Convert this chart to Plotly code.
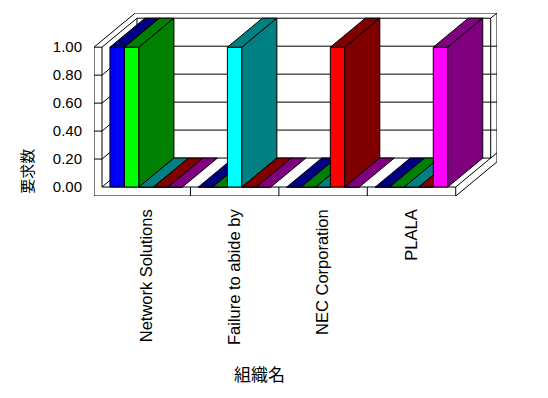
import plotly.graph_objects as go

# ---------------- data ----------------
categories = ["Network Solutions", "Failure to abide by", "NEC Corporation", "PLALA"]
series_1 = [1, 0, 0, 0]
series_2 = [1, 0, 0, 0]
series_3 = [0, 1, 0, 0]
series_4 = [0, 0, 1, 0]
series_5 = [0, 0, 0, 1]
series_names = ["系列1", "系列2", "系列3", "系列4", "系列5"]
y_tick_values = [0.0, 0.2, 0.4, 0.6, 0.8, 1.0]
y_tick_labels = ["0.00", "0.20", "0.40", "0.60", "0.80", "1.00"]
y_title = "要求数"
x_title = "組織名"

series_values = [series_1, series_2, series_3, series_4, series_5]

# ---------------- styles ----------------
front_colors = ["#0000FF", "#00FF00", "#00FFFF", "#FF0000", "#FF00FF"]
shade_colors = ["#000080", "#008000", "#008080", "#800000", "#800080"]

# ---------------- geometry (3D oblique projection) ----------------
W, H = 548, 398
OFF = 8                # default page body margin
PX_CAT = 88.5          # pixels per category
PX_VAL = 140.0         # pixels per value unit
n = len(categories)
xL, xR = -0.5, n - 0.5
DX = 35 / PX_CAT       # depth offset (x units)
DY = 29 / PX_VAL       # depth offset (value units)
WALL = 8 / PX_CAT      # left wall thickness
FLOOR = 9 / PX_VAL     # floor thickness
K = 1.18               # back wall thickness factor
YMAX = max(y_tick_values)
GROUP = 0.82
BW = GROUP / len(series_values)

x_range = [xL - WALL, xR + K * DX]
y_range = [-FLOOR, YMAX + K * DY]
plot_w = (x_range[1] - x_range[0]) * PX_CAT
plot_h = (y_range[1] - y_range[0]) * PX_VAL
FW, FH = W - OFF, H - OFF
ML, MT = 94 - OFF, 13 - OFF
MR = FW - ML - plot_w
MB = FH - MT - plot_h

fig = go.Figure()

def poly_trace(polys, fill, z, width=1):
    xs, ys = [], []
    for p in polys:
        for (a, b) in p:
            xs.append(a); ys.append(b)
        xs.append(p[0][0]); ys.append(p[0][1])
        xs.append(None); ys.append(None)
    return go.Scatter(x=xs, y=ys, mode="lines", fill="toself", fillcolor=fill,
                      line=dict(color="black", width=width), hoverinfo="skip",
                      showlegend=False, zorder=z)

def line_trace(segs, z):
    xs, ys = [], []
    for seg in segs:
        for (a, b) in seg:
            xs.append(a); ys.append(b)
        xs.append(None); ys.append(None)
    return go.Scatter(x=xs, y=ys, mode="lines", line=dict(color="black", width=1),
                      hoverinfo="skip", showlegend=False, zorder=z)

# walls + floor silhouette
sil = [(xL - WALL, -FLOOR), (xL - WALL, YMAX), (xL - WALL + K * DX, YMAX + K * DY),
       (xR + K * DX, YMAX + K * DY), (xR + K * DX, -FLOOR + K * DY), (xR, -FLOOR)]
fig.add_trace(poly_trace([sil], "white", 0))

segs = []
segs.append([(xL - WALL, YMAX), (xL, YMAX), (xL, 0), (xR, 0), (xR, -FLOOR)])
segs.append([(xL, YMAX), (xL + DX, YMAX + DY), (xR + DX, YMAX + DY), (xR + DX, DY)])
segs.append([(xR + DX, YMAX + DY), (xR + K * DX, YMAX + K * DY)])
segs.append([(xR, 0), (xR + K * DX, K * DY)])
segs.append([(xL, 0), (xL + DX, DY), (xR + DX, DY)])
segs.append([(xL + DX, DY), (xL + DX, YMAX + DY)])
for v in y_tick_values[1:-1]:
    segs.append([(xL + DX, v + DY), (xR + K * DX, v + DY)])
    segs.append([(xL, v), (xL + DX, v + DY)])
    segs.append([(xL - WALL, v), (xL, v)])
for i in range(n - 1):
    segs.append([(i + 0.5, -FLOOR), (i + 0.5, 0)])
fig.add_trace(line_trace(segs, 1))

# bars
for s, vals in enumerate(series_values):
    off = -GROUP / 2 + s * BW
    z = 10 + s
    fig.add_trace(go.Bar(x=list(range(n)), y=vals, offset=off, width=BW,
                         marker=dict(color=front_colors[s], line=dict(color="black", width=1)),
                         name=series_names[s], showlegend=False, zorder=z))
    tops, sides = [], []
    for i, v in enumerate(vals):
        x0 = i + off
        x1 = x0 + BW
        tops.append([(x0, v), (x1, v), (x1 + DX, v + DY), (x0 + DX, v + DY)])
        if v > 0:
            sides.append([(x1, 0), (x1, v), (x1 + DX, v + DY), (x1 + DX, DY)])
    fig.add_trace(poly_trace(tops, shade_colors[s], z))
    if sides:
        fig.add_trace(poly_trace(sides, shade_colors[s], z))

def px_to_paper(px, py):
    return (px - OFF - ML) / plot_w, 1 - (py - OFF - MT) / plot_h

ytx, yty = px_to_paper(27, 172)
xtx, xty = px_to_paper(260, 374)

fig.update_layout(
    width=FW, height=FH, barmode="overlay",
    margin=dict(l=ML, r=MR, t=MT, b=MB, pad=0),
    paper_bgcolor="white", plot_bgcolor="white",
    showlegend=False,
    font=dict(family="Liberation Sans, Arial, sans-serif", color="black"),
    xaxis=dict(range=x_range, showgrid=False, zeroline=False, showline=False,
               tickvals=list(range(n)), ticktext=categories, tickangle=-90,
               ticks="", ticklabelstandoff=9, automargin=False,
               tickfont=dict(size=16.5, color="black")),
    yaxis=dict(range=y_range, showgrid=False, zeroline=False, showline=False,
               tickvals=y_tick_values, ticktext=y_tick_labels, ticks="",
               ticklabelstandoff=11, automargin=False,
               tickfont=dict(size=15, color="black")),
    annotations=[
        dict(text=y_title, x=ytx, y=yty, xref="paper", yref="paper", showarrow=False,
             xanchor="center", yanchor="middle", textangle=-90,
             font=dict(family="Noto Sans CJK JP", size=15, color="black")),
        dict(text=x_title, x=xtx, y=xty, xref="paper", yref="paper", showarrow=False,
             xanchor="center", yanchor="middle",
             font=dict(family="Noto Sans CJK JP", size=17, color="black")),
    ],
)

fig.write_html("out.html")
